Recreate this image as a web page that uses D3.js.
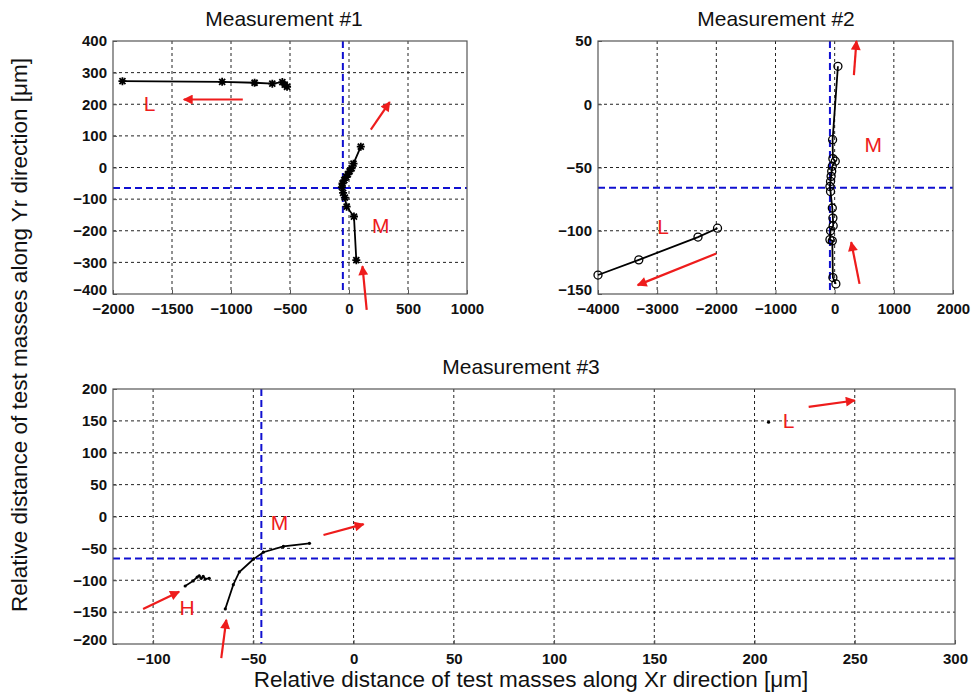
<!DOCTYPE html>
<html lang="en">
<head>
  <meta charset="UTF-8">
  <title>Test mass trajectories</title>
  <script src="https://d3js.org/d3.v7.min.js"></script>
  <style>
    body { margin: 0; background: white; font-family: "Liberation Sans", Arial, sans-serif; }
    .tick text { font-weight: bold; font-size: 15px; fill: #111; font-family: "Liberation Sans", Arial, sans-serif; }
  </style>
</head>
<body>
  <svg width="978" height="693"></svg>
  <script>
    // measurement #1 (asterisk markers)
    const m1L = [[-1920, 273], [-1075, 271], [-800, 268], [-650, 265], [-565, 270], [-545, 262], [-525, 255]];
    const m1M = [[62, -293], [42, -155], [-20, -124], [-35, -95], [-50, -80], [-60, -62], [-55, -50], [-40, -40],
      [-25, -30], [-10, -22], [5, -12], [22, -3], [38, 12], [100, 66]];
    // measurement #2 (open circles)
    const m2L = [[-1980, -98], [-2310, -105], [-3310, -123], [-4000, -135]];
    const m2M = [[20, -142], [-30, -137], [-40, -108], [-80, -107], [-70, -100], [-25, -96], [-30, -90], [-40, -82],
      [-70, -69], [-80, -65], [-70, -61], [-60, -57], [-50, -53], [-40, -49], [10, -45], [-30, -43], [-35, -28], [55, 30]];
    // measurement #3 (dots)
    const m3M = [[-64, -145], [-60, -107], [-57, -87], [-50, -67], [-45, -56], [-35, -47], [-22, -42]];
    const m3H = [[-84, -109], [-80, -101], [-78, -95], [-77, -93], [-76, -97], [-75, -94], [-74, -98], [-72, -97]];
    const m3L = [[207, 148]];

    const xTicks1 = [-2000, -1500, -1000, -500, 0, 500, 1000];
    const yTicks1 = [-400, -300, -200, -100, 0, 100, 200, 300, 400];
    const xTicks2 = [-4000, -3000, -2000, -1000, 0, 1000, 2000];
    const yTicks2 = [-150, -100, -50, 0, 50];
    const xTicks3 = [-100, -50, 0, 50, 100, 150, 200, 250, 300];
    const yTicks3 = [-200, -150, -100, -50, 0, 50, 100, 150, 200];

    // red arrows [x0, y0, x1, y1] and labels [text, x, y]
    const arrows1 = [[-900, 215, -1400, 215], [185, 120, 345, 207], [150, -450, 114, -312]];
    const labels1 = [["L", -1690, 195], ["M", 270, -188]];
    const arrows2 = [[-2000, -118, -3330, -143], [325, 23, 368, 50], [420, -142, 280, -109]];
    const labels2 = [["L", -2900, -98], ["M", 650, -33]];
    const arrows3 = [[-15, -29, 5, -12], [-105, -145, -87, -118], [-66, -222, -63.5, -162], [227, 172, 250, 182]];
    const labels3 = [["M", -37, -13], ["H", -83, -146], ["L", 217, 147]];

    const svg = d3.select("svg");
    const red = "#ee1c1c";

    svg.append("defs").append("marker")
      .attr("id", "head")
      .attr("viewBox", "0 0 10 10")
      .attr("refX", 9).attr("refY", 5)
      .attr("markerWidth", 5).attr("markerHeight", 4.5)
      .attr("markerUnits", "strokeWidth")
      .attr("orient", "auto")
      .append("path").attr("d", "M0,0L10,5L0,10Z").attr("fill", red);

    // matlab style '*' marker
    const asterisk = "M-4,0H4M0,-4V4M-3,-3L3,3M-3,3L3,-3";

    function panel(opt) {
      const { left, top, width, height } = opt;
      const x = d3.scaleLinear().domain(opt.xDomain).range([left, left + width]);
      const y = d3.scaleLinear().domain(opt.yDomain).range([top + height, top]);
      const g = svg.append("g");

      // grid
      g.selectAll(".gx").data(opt.xTicks.filter(t => t > opt.xDomain[0] && t < opt.xDomain[1]))
        .enter().append("line")
        .attr("x1", d => x(d)).attr("x2", d => x(d)).attr("y1", top).attr("y2", top + height)
        .attr("stroke", "#222").attr("stroke-width", 1).attr("stroke-dasharray", "3,3");
      g.selectAll(".gy").data(opt.yTicks.filter(t => t > opt.yDomain[0] && t < opt.yDomain[1]))
        .enter().append("line")
        .attr("y1", d => y(d)).attr("y2", d => y(d)).attr("x1", left).attr("x2", left + width)
        .attr("stroke", "#222").attr("stroke-width", 1).attr("stroke-dasharray", "3,3");

      // blue reference lines
      g.append("line").attr("x1", x(opt.ref[0])).attr("x2", x(opt.ref[0])).attr("y1", top).attr("y2", top + height)
        .attr("stroke", "#1010d0").attr("stroke-width", 2).attr("stroke-dasharray", "7,4");
      g.append("line").attr("y1", y(opt.ref[1])).attr("y2", y(opt.ref[1])).attr("x1", left).attr("x2", left + width)
        .attr("stroke", "#1010d0").attr("stroke-width", 2).attr("stroke-dasharray", "7,4");

      // axes
      g.append("g").attr("transform", `translate(0,${top + height})`)
        .call(d3.axisBottom(x).tickValues(opt.xTicks).tickFormat(d3.format("d")).tickSize(-4).tickPadding(9))
        .call(a => a.select(".domain").remove());
      g.append("g").attr("transform", `translate(${left},0)`)
        .call(d3.axisLeft(y).tickValues(opt.yTicks).tickFormat(d3.format("d")).tickSize(-4).tickPadding(6))
        .call(a => a.select(".domain").remove())
        .call(a => a.selectAll(".tick text").filter(d => d === opt.yDomain[0]).attr("dy", "0.05em"));
      g.selectAll(".tick line").attr("stroke", "#555");

      g.append("rect").attr("x", left).attr("y", top).attr("width", width).attr("height", height)
        .attr("fill", "none").attr("stroke", "#555").attr("stroke-width", 1.2);

      // series
      const line = d3.line().x(d => x(d[0])).y(d => y(d[1]));
      opt.series.forEach(s => {
        g.append("path").attr("d", line(s)).attr("fill", "none").attr("stroke", "black").attr("stroke-width", 1.8);
        const pts = g.selectAll(null).data(s).enter();
        if (opt.marker === "star") {
          pts.append("path")
            .attr("d", asterisk)
            .attr("transform", d => `translate(${x(d[0])},${y(d[1])})`)
            .attr("fill", "none").attr("stroke", "black").attr("stroke-width", 1.8);
        } else if (opt.marker === "circle") {
          pts.append("circle").attr("cx", d => x(d[0])).attr("cy", d => y(d[1])).attr("r", 4)
            .attr("fill", "none").attr("stroke", "black").attr("stroke-width", 1.3);
        } else {
          pts.append("circle").attr("cx", d => x(d[0])).attr("cy", d => y(d[1])).attr("r", 1.6)
            .attr("fill", "black");
        }
      });

      // arrows
      opt.arrows.forEach(a => {
        g.append("line").attr("x1", x(a[0])).attr("y1", y(a[1])).attr("x2", x(a[2])).attr("y2", y(a[3]))
          .attr("stroke", red).attr("stroke-width", 2.2).attr("marker-end", "url(#head)");
      });
      opt.labels.forEach(l => {
        g.append("text").attr("x", x(l[1])).attr("y", y(l[2])).attr("text-anchor", "middle")
          .attr("dominant-baseline", "middle")
          .attr("fill", red).attr("font-size", 21).text(l[0]);
      });

      svg.append("text").attr("x", opt.titleX).attr("y", top - 15).attr("text-anchor", "middle")
        .attr("font-size", 21).attr("fill", "#111").text(opt.title);
    }

    panel({
      left: 113, top: 41, width: 354, height: 253,
      xDomain: [-2000, 1000], yDomain: [-400, 400], xTicks: xTicks1, yTicks: yTicks1,
      ref: [-52, -65], series: [m1L, m1M], marker: "star",
      arrows: arrows1, labels: labels1, title: "Measurement #1", titleX: 284
    });
    panel({
      left: 598, top: 41, width: 355, height: 253,
      xDomain: [-4000, 2000], yDomain: [-150, 50], xTicks: xTicks2, yTicks: yTicks2,
      ref: [-80, -66], series: [m2L, m2M], marker: "circle",
      arrows: arrows2, labels: labels2, title: "Measurement  #2", titleX: 776
    });
    panel({
      left: 113, top: 389, width: 842, height: 255,
      xDomain: [-120, 300], yDomain: [-200, 200], xTicks: xTicks3, yTicks: yTicks3,
      ref: [-46, -66], series: [m3M, m3H, m3L], marker: "dot",
      arrows: arrows3, labels: labels3, title: "Measurement #3", titleX: 521
    });

    svg.append("text").attr("transform", "translate(27,335) rotate(-90)").attr("text-anchor", "middle")
      .attr("font-size", 22.5).attr("fill", "#111")
      .text("Relative distance of test masses along Yr direction [\u03bcm]");
    svg.append("text").attr("x", 531).attr("y", 687).attr("text-anchor", "middle")
      .attr("font-size", 22.5).attr("fill", "#111")
      .text("Relative distance of test masses along Xr direction [\u03bcm]");
  </script>
</body>
</html>
